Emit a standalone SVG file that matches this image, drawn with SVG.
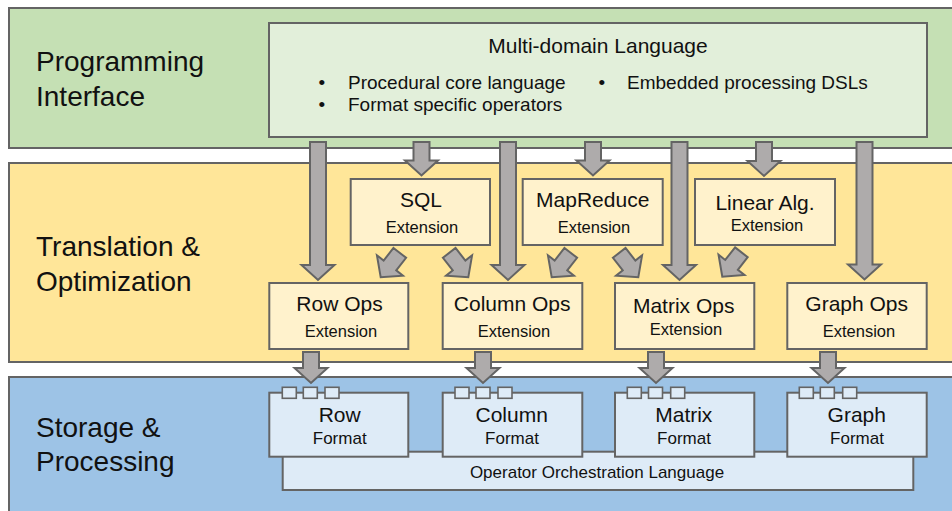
<svg xmlns="http://www.w3.org/2000/svg" width="952" height="511" viewBox="0 0 952 511">
<style>
text{font-family:"Liberation Sans",Arial,Helvetica,sans-serif;fill:#111}
.band,.box,.sq{stroke:#646464;stroke-width:2}
.sq{stroke-width:1.6}
.g1{fill:#c5e0b4}.g2{fill:#e2efda}
.y1{fill:#ffe699}.y2{fill:#fff2cc}
.b1{fill:#9dc3e6}.b2{fill:#deebf7}
.arrow{fill:#aeabab;stroke:#646464;stroke-width:2;stroke-linejoin:miter}
.title{font-size:28px}
.t{font-size:21px;text-anchor:middle}
.s{font-size:16.5px;text-anchor:middle}
.f{font-size:17px;text-anchor:middle}
.bl{font-size:19px}
</style>
<defs>
<polygon id="darrow" class="arrow" points="-8,-31 8,-31 8,-15 16.5,-15 0,0 -16.5,-15 -8,-15"/>
</defs>

<g id="layer-programming">
<rect class="band g1" x="9" y="8" width="960" height="140"/>
<text class="title" x="36" y="71">Programming</text>
<text class="title" x="36" y="106">Interface</text>
</g>
<g id="layer-translation">
<rect class="band y1" x="9" y="163" width="960" height="199"/>
<text class="title" x="36" y="256">Translation &amp;</text>
<text class="title" x="36" y="290.5">Optimization</text>
</g>
<g id="layer-storage">
<rect class="band b1" x="9" y="377" width="960" height="150"/>
<text class="title" x="36" y="437">Storage &amp;</text>
<text class="title" x="36" y="471">Processing</text>
</g>

<g id="multi-domain-language">
<rect class="box g2" x="269" y="23" width="658" height="114"/>
<text class="t" x="598" y="53.3">Multi-domain Language</text>
<text class="bl" x="318.5" y="89">•</text>
<text class="bl" x="348" y="89">Procedural core language</text>
<text class="bl" x="598.5" y="89">•</text>
<text class="bl" x="627" y="89">Embedded processing DSLs</text>
<text class="bl" x="318.5" y="111">•</text>
<text class="bl" x="348" y="111">Format specific operators</text>
</g>

<g id="sql-extension">
<rect class="box y2" x="350.7" y="179" width="139.3" height="66"/>
<text class="t" x="421" y="206.7">SQL</text>
<text class="s" x="422" y="232.7">Extension</text>
</g>
<g id="mapreduce-extension">
<rect class="box y2" x="522.7" y="179" width="140" height="66"/>
<text class="t" x="592.7" y="206.7">MapReduce</text>
<text class="s" x="594" y="232.7">Extension</text>
</g>
<g id="linear-alg-extension">
<rect class="box y2" x="695" y="179" width="140" height="66"/>
<text class="t" x="765" y="210">Linear Alg.</text>
<text class="s" x="767" y="230.7">Extension</text>
</g>

<g id="row-ops">
<rect class="box y2" x="269.3" y="283" width="139" height="66"/>
<text class="t" x="339.5" y="310.7">Row Ops</text>
<text class="s" x="341" y="336.7">Extension</text>
</g>
<g id="column-ops">
<rect class="box y2" x="442.7" y="283" width="139.6" height="66"/>
<text class="t" x="512.2" y="310.7">Column Ops</text>
<text class="s" x="514" y="336.7">Extension</text>
</g>
<g id="matrix-ops">
<rect class="box y2" x="615" y="283" width="139.3" height="66"/>
<text class="t" x="683.7" y="313.3">Matrix Ops</text>
<text class="s" x="686" y="335">Extension</text>
</g>
<g id="graph-ops">
<rect class="box y2" x="787.3" y="283" width="139.4" height="66"/>
<text class="t" x="856.7" y="310.7">Graph Ops</text>
<text class="s" x="859" y="336.7">Extension</text>
</g>

<g id="operator-orchestration-language">
<rect class="box b2" x="282.7" y="451.7" width="630.6" height="38.3"/>
<text class="f" x="597" y="477.7">Operator Orchestration Language</text>
</g>

<g id="row-format">
<rect class="box b2" x="269.3" y="392.7" width="139" height="64"/>
<rect class="sq b2" x="282.3" y="387.3" width="14" height="11"/>
<rect class="sq b2" x="303.3" y="387.3" width="14" height="11"/>
<rect class="sq b2" x="325" y="387.3" width="14" height="11"/>
<text class="t" x="339.7" y="421.7">Row</text>
<text class="f" x="339.7" y="444">Format</text>
</g>
<g id="column-format">
<rect class="box b2" x="442.7" y="392.7" width="139.6" height="64"/>
<rect class="sq b2" x="455" y="387.3" width="14" height="11"/>
<rect class="sq b2" x="476" y="387.3" width="14" height="11"/>
<rect class="sq b2" x="498" y="387.3" width="14" height="11"/>
<text class="t" x="511.7" y="421.7">Column</text>
<text class="f" x="512" y="444">Format</text>
</g>
<g id="matrix-format">
<rect class="box b2" x="615" y="392.7" width="139.3" height="64"/>
<rect class="sq b2" x="627.3" y="387.3" width="14" height="11"/>
<rect class="sq b2" x="648.5" y="387.3" width="14" height="11"/>
<rect class="sq b2" x="670.7" y="387.3" width="14" height="11"/>
<text class="t" x="683.8" y="421.7">Matrix</text>
<text class="f" x="684" y="444">Format</text>
</g>
<g id="graph-format">
<rect class="box b2" x="787.3" y="392.7" width="139.4" height="64"/>
<rect class="sq b2" x="799.3" y="387.3" width="14" height="11"/>
<rect class="sq b2" x="820.3" y="387.3" width="14" height="11"/>
<rect class="sq b2" x="842.7" y="387.3" width="14" height="11"/>
<text class="t" x="856.8" y="421.7">Graph</text>
<text class="f" x="857" y="444">Format</text>
</g>

<g id="connectors">
<polygon class="arrow" points="310,142 326,142 326,265 334.5,265 318,280 301.5,265 310,265"/>
<polygon class="arrow" points="500,142 516,142 516,265 524.5,265 508,280 491.5,265 500,265"/>
<polygon class="arrow" points="671.5,142 687.5,142 687.5,265 696,265 679.5,280 663,265 671.5,265"/>
<polygon class="arrow" points="856.5,142 872.5,142 872.5,264.5 881,264.5 864.5,279.5 848,264.5 856.5,264.5"/>
<polygon class="arrow" points="413.5,142 429.5,142 429.5,160.5 438,160.5 421.5,175.5 405,160.5 413.5,160.5"/>
<polygon class="arrow" points="585,142 601,142 601,160.5 609.5,160.5 593,175.5 576.5,160.5 585,160.5"/>
<polygon class="arrow" points="756,142 772,142 772,161 780.5,161 764,176 747.5,161 756,161"/>
<use href="#darrow" transform="translate(380.7,277.3) rotate(38)"/>
<use href="#darrow" transform="translate(468.3,277.3) rotate(-38)"/>
<use href="#darrow" transform="translate(551.7,277.3) rotate(38)"/>
<use href="#darrow" transform="translate(638.3,277.3) rotate(-38)"/>
<use href="#darrow" transform="translate(722.3,276.7) rotate(38)"/>
<polygon class="arrow" points="303,352 319,352 319,368 327.5,368 311,383 294.5,368 303,368"/>
<polygon class="arrow" points="475,352 491,352 491,368 499.5,368 483,383 466.5,368 475,368"/>
<polygon class="arrow" points="648,352 664,352 664,368 672.5,368 656,383 639.5,368 648,368"/>
<polygon class="arrow" points="820,352 836,352 836,368 844.5,368 828,383 811.5,368 820,368"/>
</g>
</svg>
